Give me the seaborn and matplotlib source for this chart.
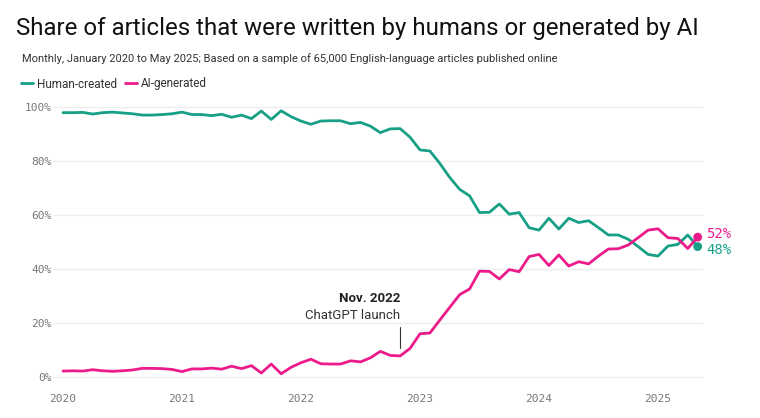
import numpy as np
import pandas as pd
import seaborn as sns
import matplotlib.pyplot as plt

# monthly share (%), Jan 2020 .. May 2025
months = pd.date_range("2020-01-01", "2025-05-01", freq="MS")
human = [97.9, 97.9, 98.0, 97.4, 97.9, 98.1, 97.8, 97.5, 97.0, 97.0, 97.2, 97.5,
         98.1, 97.2, 97.2, 96.8, 97.3, 96.2, 97.0, 95.7, 98.5, 95.4, 98.6, 96.4,
         94.8, 93.6, 94.8, 94.9, 94.9, 93.8, 94.3, 92.9, 90.5, 91.9, 92.0, 88.8,
         84.1, 83.7, 79.1, 73.9, 69.5, 67.1, 60.9, 61.0, 64.1, 60.3, 60.9, 55.3,
         54.4, 58.8, 54.8, 58.8, 57.2, 57.9, 55.3, 52.6, 52.6, 51.0, 48.3, 45.4,
         44.8, 48.5, 49.1, 52.6, 48.3]
ai = [2.2, 2.3, 2.2, 2.7, 2.3, 2.1, 2.3, 2.6, 3.2, 3.2, 3.1, 2.8,
      2.0, 3.0, 3.0, 3.3, 2.9, 4.0, 3.1, 4.2, 1.5, 4.8, 1.2, 3.6,
      5.3, 6.6, 4.9, 4.8, 4.8, 6.0, 5.6, 7.1, 9.5, 8.0, 7.8, 10.6,
      16.0, 16.3, 21.1, 25.8, 30.5, 32.6, 39.2, 39.1, 36.3, 39.8, 39.0, 44.6,
      45.4, 41.3, 45.2, 41.1, 42.7, 41.9, 44.8, 47.4, 47.5, 48.9, 51.6, 54.4,
      54.9, 51.6, 51.3, 47.6, 51.8]
series_names = ["Human-created", "AI-generated"]
colors = ["#17a086", "#ec1b8c"]
end_labels = ["48%", "52%"]
year_ticks = [2020, 2021, 2022, 2023, 2024, 2025]
y_ticks = [0, 20, 40, 60, 80, 100]

t = months.year + (months.month - 1) / 12
df = pd.DataFrame({
    "t": np.concatenate([t, t]),
    "share": human + ai,
    "series": [series_names[0]] * len(t) + [series_names[1]] * len(t),
})

sns.set_style("white")
fig = plt.figure(figsize=(7.6, 4.18), dpi=100)
W, H = 760, 418
ax = fig.add_axes([53 / W, 1 - 380 / H, 650 / W, 275 / H])

sns.lineplot(data=df, x="t", y="share", hue="series", palette=colors,
             linewidth=2, ax=ax, clip_on=False)
handles, labels = ax.get_legend_handles_labels()
ax.get_legend().remove()

last = df.groupby("series", sort=False).tail(1)
sns.scatterplot(data=last, x="t", y="share", hue="series", palette=colors,
                s=40, edgecolor="none", legend=False, ax=ax, clip_on=False, zorder=5)
offsets = [-1.4, 1.0]
for (_, row), lab, c, off in zip(last.iterrows(), end_labels, colors, offsets):
    ax.text(row["t"] + 0.07, row["share"] + off, lab, color=c, fontsize=10,
            family="DejaVu Sans Mono", va="center", ha="left")

# ChatGPT launch marker
launch = 2022 + 10 / 12
ax.plot([launch, launch], [10.7, 18.5], color="#333333", lw=0.8)
ax.text(launch, 21.5, "ChatGPT launch", ha="right", va="baseline",
        fontsize=9.5, color="#333333", family="Roboto")
ax.text(launch, 27.6, "Nov. 2022", ha="right", va="baseline",
        fontsize=9.5, color="#222222", family="Roboto", fontweight="bold")

ax.set_xlim(2020 - 10 / 119, 2020 + 640 / 119)
ax.set_ylim(-1.11, 100.74)
ax.set_xticks(year_ticks)
ax.set_xticklabels([str(y) for y in year_ticks])
ax.set_yticks(y_ticks)
ax.set_yticklabels([f"{v}%" for v in y_ticks])
ax.yaxis.grid(True, color="#eeeeee", lw=1)
ax.xaxis.grid(False)
for s in ax.spines.values():
    s.set_visible(False)
ax.tick_params(axis="y", length=0, pad=1, labelsize=8, labelcolor="#777777")
ax.tick_params(axis="x", length=5, width=0.8, color="#e8e8e8", pad=5,
               labelsize=8, labelcolor="#777777")
for lab in ax.get_xticklabels() + ax.get_yticklabels():
    lab.set_family("DejaVu Sans Mono")
ax.set_xlabel("")
ax.set_ylabel("")

fig.text(16 / W, 1 - 35 / H,
         "Share of articles that were written by humans or generated by AI",
         fontsize=17.3, color="#111111", va="baseline", family="Roboto")
fig.text(22 / W, 1 - 62 / H,
         "Monthly, January 2020 to May 2025; Based on a sample of 65,000 "
         "English-language articles published online",
         fontsize=8.0, color="#333333", va="baseline", family="Roboto")
fig.legend(handles, labels, loc="center left", bbox_to_anchor=(21 / W, 1 - 84 / H),
           ncol=2, frameon=False, handlelength=1.0, handletextpad=0.35,
           columnspacing=0.7, borderpad=0, borderaxespad=0,
           prop={"family": "Roboto", "size": 8.5}, labelcolor="#333333")

fig.savefig("out.png", dpi=100)
